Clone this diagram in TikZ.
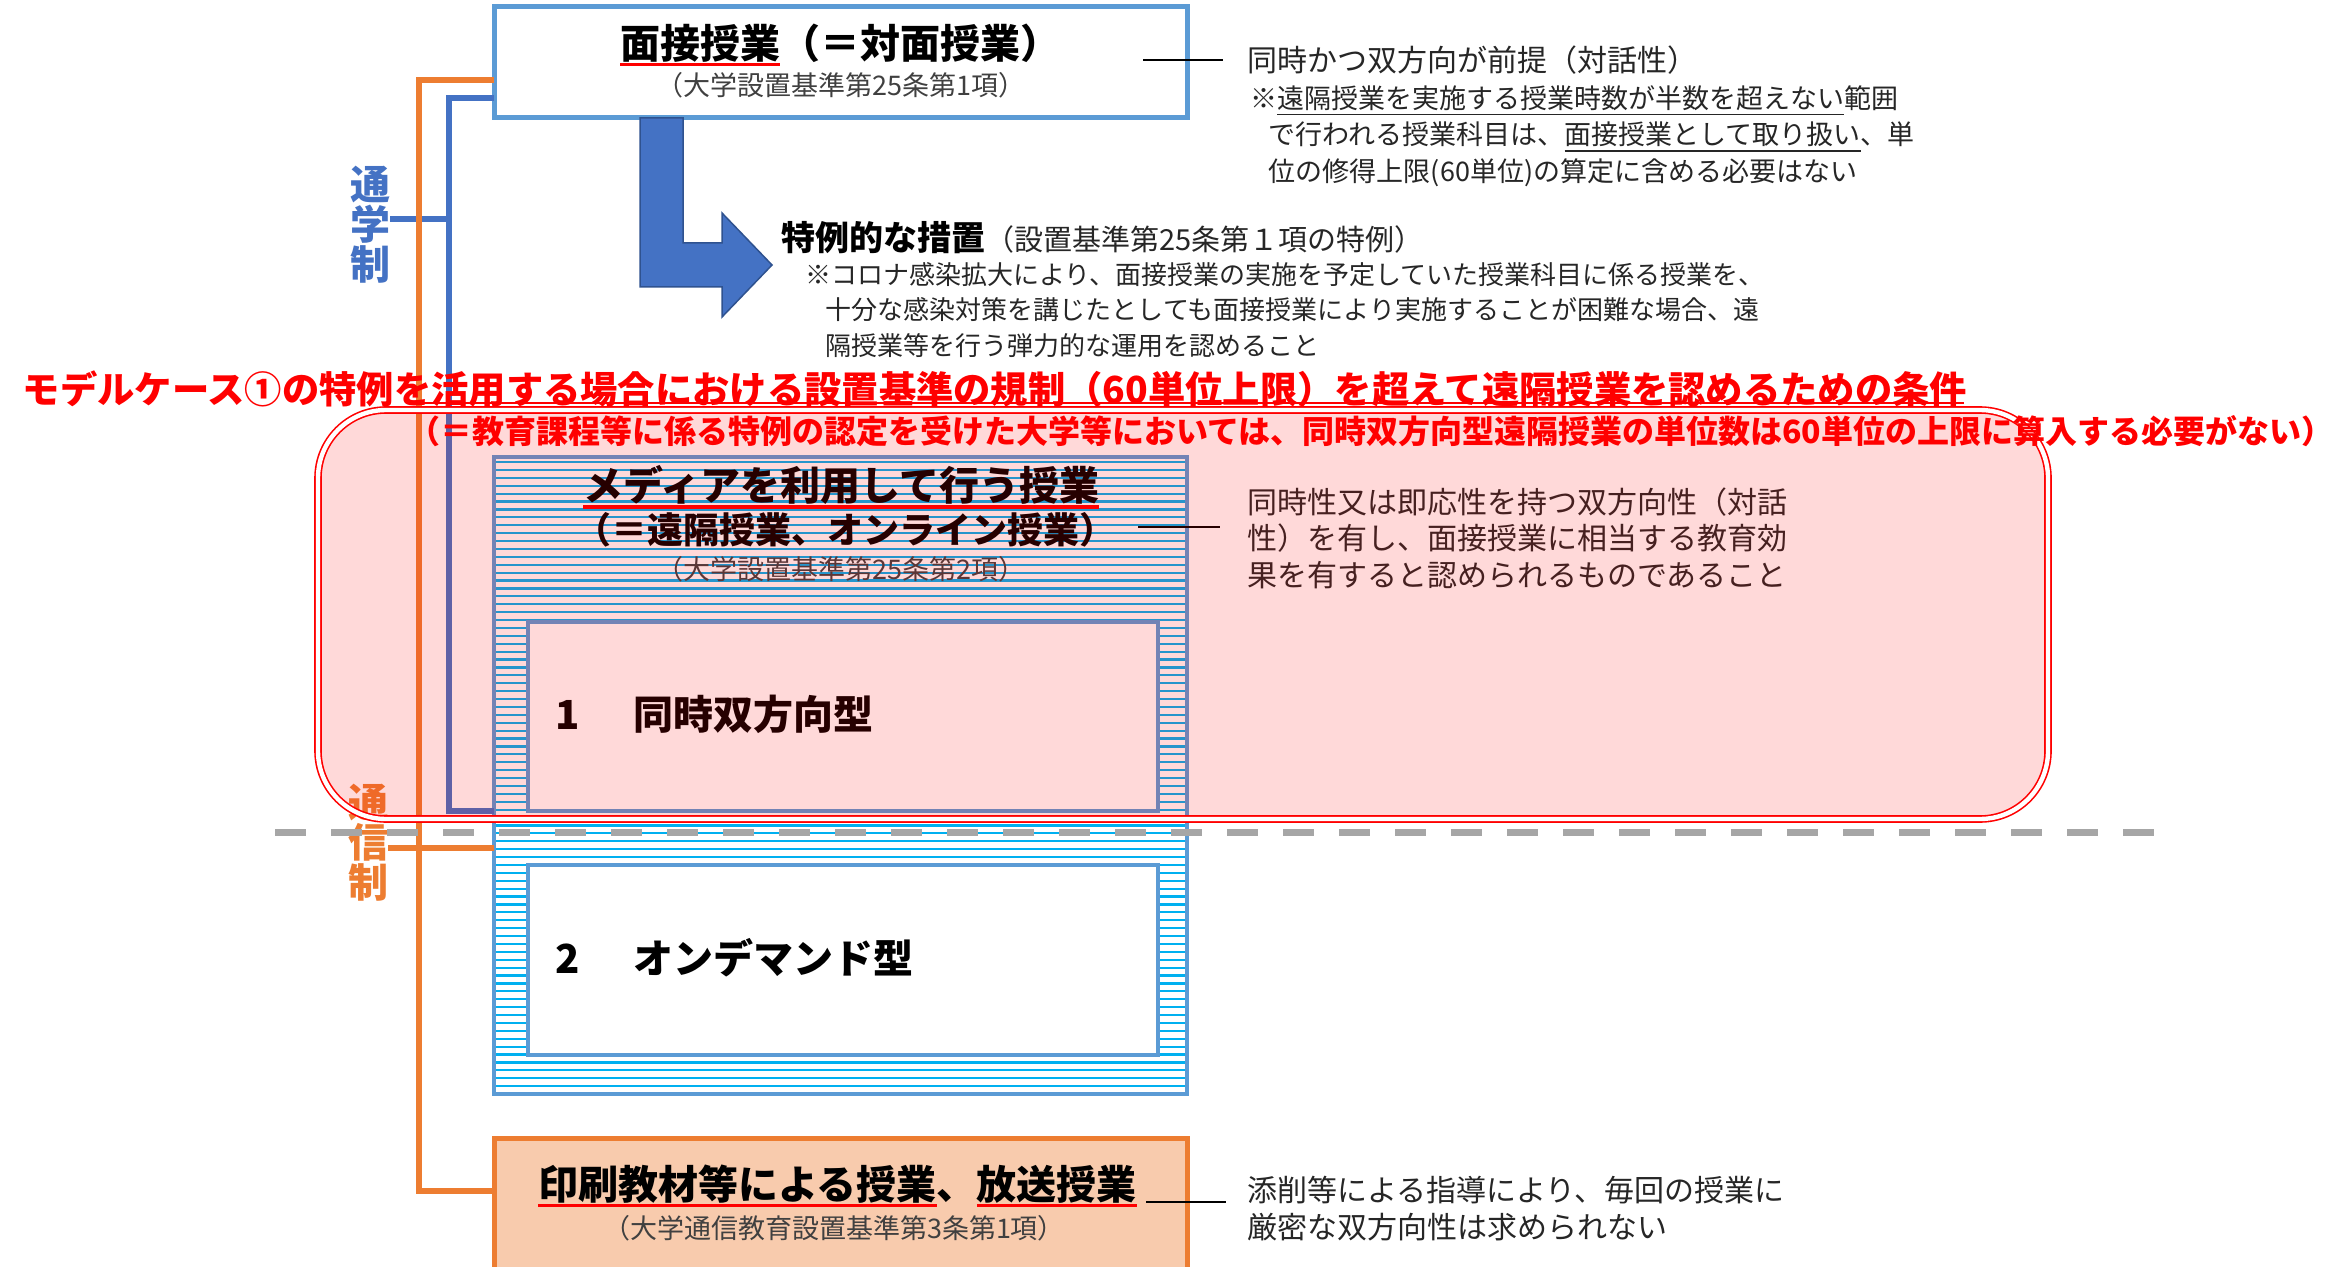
\documentclass[tikz,border=0pt]{standalone}
\usepackage{fontspec}
\setmainfont{Noto Sans CJK JP}
\usetikzlibrary{calc}
\definecolor{boxblue}{HTML}{5B9BD5}
\definecolor{linkblue}{HTML}{4472C4}
\definecolor{arrowedge}{HTML}{2F528F}
\definecolor{orng}{HTML}{ED7D31}
\definecolor{peach}{HTML}{F8CBAD}
\definecolor{stripec}{HTML}{00B0F0}
\definecolor{dashgray}{HTML}{A6A6A6}
\definecolor{txtgray}{HTML}{262626}
\definecolor{subgray}{HTML}{404040}
\newsavebox\ulbox
\newcommand\rul[1]{\sbox\ulbox{#1}\rlap{\color{red}\rule[-0.2em]{\wd\ulbox}{0.09em}}\usebox\ulbox}
\newcommand\kul[1]{\sbox\ulbox{#1}\rlap{\rule[-0.25em]{\wd\ulbox}{0.05em}}\usebox\ulbox}
\newcommand\fsz[2]{\fontsize{#1}{#2}\selectfont}
\begin{document}
\begin{tikzpicture}[x=0.5pt,y=-0.5pt,
  every node/.style={inner sep=0pt,outer sep=0pt},
  panel/.style={draw=boxblue,line width=2.5pt,fill=white,minimum width=346.5pt},
  innerbox/.style={draw=boxblue,line width=2.2pt,fill=white,minimum width=315pt},
  boldtitle/.style={font=\bfseries\fsz{20pt}{24pt},text=black},
  subtxt/.style={font=\fsz{13.5pt}{16pt},text=subgray},
  notetxt/.style={anchor=west,align=left,text=txtgray},
  connector/.style={draw=black,line width=0.75pt},
  bracketline/.style={line width=3pt},
  vlabel/.style={font=\bfseries\fsz{20pt}{20pt},align=center}]
\useasboundingbox (0,0) rectangle (2333,1267);
\fill[white] (0,0) rectangle (2333,1267);

% ---------- top box ----------
\node[panel,minimum height=55.5pt] (face) at (840.5,62.5) {};
\node[boldtitle,anchor=west] (faceT) at (620,45) {\rul{面接授業}（＝対面授業）};
\node[subtxt] (faceS) at (841,85) {（大学設置基準第25条第1項）};

% ---------- bent arrow ----------
\fill[linkblue,draw=arrowedge,line width=0.75pt] (640,118) -- (683,118) -- (683,243) -- (722,243) -- (722,213) -- (772,265) -- (722,317) -- (722,287) -- (640,287) -- cycle;

% ---------- notes top ----------
\node[notetxt,font=\fsz{15pt}{18pt}] (note1) at (1247,60) {同時かつ双方向が前提（対話性）};
\node[notetxt,font=\fsz{13.5pt}{18.3pt}] (note2) at (1250,136) {※\kul{遠隔授業を実施する授業時数が半数を超えない}範囲\\\hspace*{0.7em}で行われる授業科目は、\kul{面接授業として取り扱い}、単\\\hspace*{0.7em}位の修得上限(60単位)の算定に含める必要はない};
\node[anchor=west,text=black] (special) at (781,238) {\bfseries\fsz{17pt}{20pt}特例的な措置\mdseries\fsz{14.5pt}{18pt}\color{txtgray}（設置基準第25条第１項の特例）};
\node[notetxt,font=\fsz{13pt}{17.8pt}] (corona) at (805,310) {※コロナ感染拡大により、面接授業の実施を予定していた授業科目に係る授業を、\\\hspace*{0.8em}十分な感染対策を講じたとしても面接授業により実施することが困難な場合、遠\\\hspace*{0.8em}隔授業等を行う弾力的な運用を認めること};

% ---------- media box ----------
\foreach \i in {0,...,79} \draw[stripec,line width=1.1pt] (494,{462+7.9*\i}) -- (1187,{462+7.9*\i});
\node[draw=boxblue,line width=2pt,minimum width=346.5pt,minimum height=318.5pt] (media) at (840.5,775.5) {};
\node[innerbox,minimum height=94.5pt] (sync) at (843,716.5) {};
\node[innerbox,minimum height=95pt] (ondemand) at (843,960) {};
\node[boldtitle] (mediaT) at (841,487) {\rul{メディアを利用して行う授業}};
\node[font=\bfseries\fsz{18pt}{22pt}] (mediaT2) at (845,530) {（＝遠隔授業、オンライン授業）};
\node[subtxt] (mediaS) at (841,569) {（大学設置基準第25条第2項）};
\node[boldtitle,anchor=west] (syncT) at (555,714) {1\hspace{1.35em}同時双方向型};
\node[boldtitle,anchor=west] (ondT) at (555,958) {2\hspace{1.35em}オンデマンド型};
\node[notetxt,font=\fsz{15pt}{18.3pt}] (mnote) at (1247,538) {同時性又は即応性を持つ双方向性（対話\\性）を有し、面接授業に相当する教育効\\果を有すると認められるものであること};

% ---------- print box ----------
\node[draw=orng,fill=peach,line width=2.5pt,minimum width=346.5pt,minimum height=81pt] (print) at (840.5,1219) {};
\node[boldtitle,anchor=west] (printT) at (538,1186) {\rul{印刷教材等による授業}、\rul{放送授業}};
\node[subtxt] (printS) at (834,1228) {（大学通信教育設置基準第3条第1項）};
\node[notetxt,font=\fsz{15pt}{18.5pt}] (pnote) at (1247,1209) {添削等による指導により、毎回の授業に\\厳密な双方向性は求められない};

% ---------- brackets ----------
\node[vlabel,text=linkblue] (tsugaku) at (370,225) {通\\学\\制};
\node[vlabel,text=orng] (tsushin) at (368,843) {通\\信\\制};
\coordinate (bTop) at (449,98);
\coordinate (bBot) at (449,811);
\coordinate (bMid) at (449,219);
\coordinate (oTop) at (419,80);
\coordinate (oBot) at (419,1191);
\coordinate (oMid) at (419,848);
\draw[linkblue,bracketline] (face.west |- bTop) -- (bTop) -- (bBot) -- (media.west |- bBot);
\draw[linkblue,bracketline] (tsugaku.east |- bMid) -- (bMid);
\draw[orng,bracketline] (face.west |- oTop) -- (oTop) -- (oBot) -- (print.west |- oBot);
\draw[orng,bracketline] (tsushin.east |- oMid) -- (media.west |- oMid);

% ---------- connectors to notes ----------
\coordinate (c1) at (1143,60);
\coordinate (c2) at (1138,527);
\coordinate (c3) at (1146,1202);
\draw[connector,shorten >=12pt] (c1) -- (c1 -| note1.west);
\draw[connector,shorten >=13.5pt] (c2) -- (c2 -| mnote.west);
\draw[connector,shorten >=10.5pt] (c3) -- (c3 -| pnote.west);

% ---------- pink zone ----------
\node[draw=red,line width=0.8pt,double=white,double distance=2.2pt,fill=red,fill opacity=0.15,rounded corners=34pt,minimum width=865pt,minimum height=204.5pt] (zone) at (1183,614.5) {};

% ---------- dashed separator ----------
\draw[dashgray,line width=3.5pt,dash pattern=on 15.5pt off 12.5pt] (275,832) -- (2155,832);

% ---------- red condition texts ----------
\node[anchor=west,font=\bfseries\fsz{18.65pt}{22pt},text=red] (cond) at (23,389) {モデルケース①の特例を活用する場合における設置基準の規制（60単位上限）を超えて遠隔授業を認めるための条件};
\coordinate (u1) at (417,403);
\coordinate (u2) at (1964,403);
\draw[red,line width=1pt] (u1) -- (u2);
\node[anchor=west,font=\bfseries\fsz{16pt}{19pt},text=red] (cond2) at (408,431) {（＝教育課程等に係る特例の認定を受けた大学等においては、同時双方向型遠隔授業の単位数は60単位の上限に算入する必要がない）};
\end{tikzpicture}
\end{document}
